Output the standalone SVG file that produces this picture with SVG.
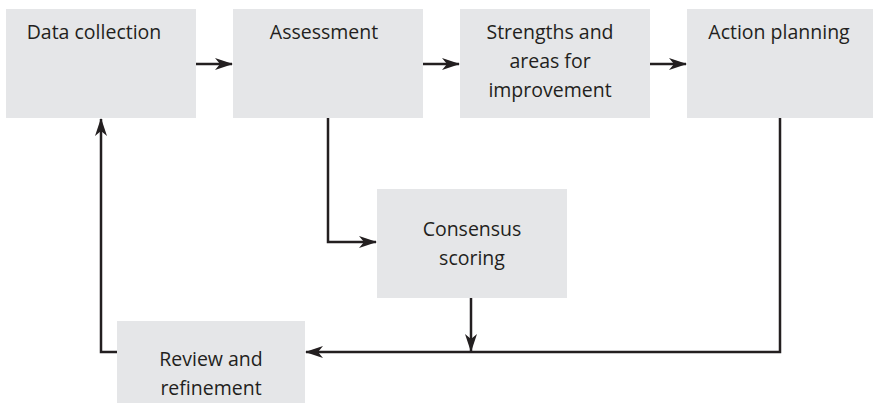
<svg xmlns="http://www.w3.org/2000/svg" width="873" height="403" viewBox="0 0 873 403">
<style>
.box{fill:#e5e6e8;}
.t{font-family:"Open Sans","Liberation Sans",sans-serif;font-size:19.5px;fill:#231f20;text-anchor:middle;}
.c{fill:none;stroke:#231f20;stroke-width:2.5;}
</style>
<defs>
<marker id="ah" markerWidth="18" markerHeight="12" refX="17" refY="6" orient="auto" markerUnits="userSpaceOnUse">
<path d="M0,0 L18,6 L0,12 L5,6 Z" fill="#231f20"/>
</marker>
</defs>
<rect width="873" height="403" fill="#fff"/>
<g id="data-collection"><rect class="box" x="6" y="9" width="190" height="109"/><text class="t" x="94" y="39">Data collection</text></g>
<g id="assessment"><rect class="box" x="233" y="9" width="190" height="109"/><text class="t" x="324" y="39">Assessment</text></g>
<g id="strengths"><rect class="box" x="460" y="9" width="190" height="109"/><text class="t" x="550" y="39">Strengths and</text><text class="t" x="550" y="68">areas for</text><text class="t" x="550" y="97">improvement</text></g>
<g id="action-planning"><rect class="box" x="687" y="9" width="186" height="109"/><text class="t" x="779" y="39">Action planning</text></g>
<g id="consensus"><rect class="box" x="377" y="189" width="190" height="109"/><text class="t" x="472" y="236">Consensus</text><text class="t" x="472" y="265">scoring</text></g>
<g id="review"><rect class="box" x="117" y="321" width="188" height="82"/><text class="t" x="211" y="366">Review and</text><text class="t" x="211" y="395">refinement</text></g>
<g id="connectors">
<line class="c" x1="196" y1="64" x2="232" y2="64" marker-end="url(#ah)"/>
<line class="c" x1="423" y1="64" x2="459" y2="64" marker-end="url(#ah)"/>
<line class="c" x1="650" y1="64" x2="686" y2="64" marker-end="url(#ah)"/>
<polyline class="c" points="328,118 328,242 376,242" marker-end="url(#ah)"/>
<line class="c" x1="471" y1="298" x2="471" y2="351" marker-end="url(#ah)"/>
<polyline class="c" points="780,118 780,352 306,352" marker-end="url(#ah)"/>
<polyline class="c" points="117,352 101,352 101,119" marker-end="url(#ah)"/>
</g>
</svg>
